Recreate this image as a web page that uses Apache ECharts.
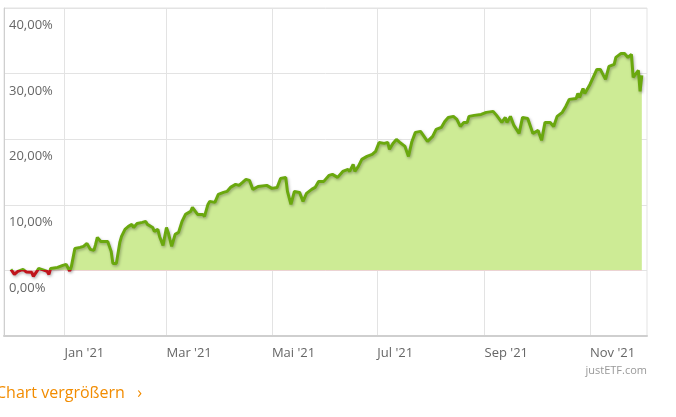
<!DOCTYPE html>
<html>
<head>
<meta charset="utf-8">
<script src="https://cdn.jsdelivr.net/npm/echarts@6/dist/echarts.min.js"></script>
<style>
  html, body { margin: 0; padding: 0; background: #fff; }
  #chart { width: 676px; height: 417px; }
</style>
</head>
<body>
<div id="chart"></div>
<script>
// Wertentwicklung in %
var dates = [
  "2020-12-01", "2020-12-03", "2020-12-05", "2020-12-08", "2020-12-10", "2020-12-13", "2020-12-14",
  "2020-12-16", "2020-12-17", "2020-12-20", "2020-12-22", "2020-12-23", "2020-12-24", "2020-12-28",
  "2020-12-31", "2021-01-02", "2021-01-03", "2021-01-04", "2021-01-05", "2021-01-07", "2021-01-10",
  "2021-01-12", "2021-01-14", "2021-01-16", "2021-01-18", "2021-01-19", "2021-01-20", "2021-01-22",
  "2021-01-23", "2021-01-26", "2021-01-28", "2021-01-29", "2021-01-31", "2021-02-02", "2021-02-03",
  "2021-02-05", "2021-02-07", "2021-02-09", "2021-02-10", "2021-02-12", "2021-02-15", "2021-02-17",
  "2021-02-18", "2021-02-21", "2021-02-22", "2021-02-24", "2021-02-25", "2021-02-27", "2021-02-28",
  "2021-03-01", "2021-03-02", "2021-03-04", "2021-03-06", "2021-03-08", "2021-03-10", "2021-03-12",
  "2021-03-15", "2021-03-16", "2021-03-19", "2021-03-22", "2021-03-23", "2021-03-25", "2021-03-26",
  "2021-03-29", "2021-03-31", "2021-04-01", "2021-04-03", "2021-04-05", "2021-04-07", "2021-04-10",
  "2021-04-12", "2021-04-14", "2021-04-16", "2021-04-18", "2021-04-20", "2021-04-23", "2021-04-24",
  "2021-04-28", "2021-05-01", "2021-05-04", "2021-05-06", "2021-05-09", "2021-05-10", "2021-05-12",
  "2021-05-14", "2021-05-17", "2021-05-19", "2021-05-21", "2021-05-24", "2021-05-26", "2021-05-28",
  "2021-05-31", "2021-06-03", "2021-06-05", "2021-06-08", "2021-06-11", "2021-06-14", "2021-06-15",
  "2021-06-17", "2021-06-18", "2021-06-20", "2021-06-22", "2021-06-25", "2021-06-28", "2021-06-30",
  "2021-07-02", "2021-07-05", "2021-07-07", "2021-07-08", "2021-07-10", "2021-07-12", "2021-07-14",
  "2021-07-17", "2021-07-19", "2021-07-21", "2021-07-23", "2021-07-26", "2021-07-28", "2021-07-30",
  "2021-08-02", "2021-08-04", "2021-08-07", "2021-08-09", "2021-08-11", "2021-08-14", "2021-08-16",
  "2021-08-18", "2021-08-20", "2021-08-22", "2021-08-23", "2021-08-26", "2021-08-27", "2021-08-30",
  "2021-09-02", "2021-09-03", "2021-09-06", "2021-09-08", "2021-09-11", "2021-09-12", "2021-09-13",
  "2021-09-14", "2021-09-16", "2021-09-18", "2021-09-19", "2021-09-21", "2021-09-23", "2021-09-26",
  "2021-09-27", "2021-09-29", "2021-09-30", "2021-10-02", "2021-10-04", "2021-10-06", "2021-10-09",
  "2021-10-11", "2021-10-13", "2021-10-16", "2021-10-18", "2021-10-20", "2021-10-24", "2021-10-25",
  "2021-10-26", "2021-10-28", "2021-10-29", "2021-11-01", "2021-11-05", "2021-11-07", "2021-11-10",
  "2021-11-12", "2021-11-15", "2021-11-16", "2021-11-19", "2021-11-21", "2021-11-23", "2021-11-25",
  "2021-11-26", "2021-11-27", "2021-11-29", "2021-11-30", "2021-12-01"
];
var returns = [
  0.15, -0.61, -0.15, 0.15, -0.26, -0.30, -0.91,
  -0.15, 0.30, 0.05, -0.15, -0.61, 0.30, 0.46,
  0.76, 0.91, 0.76, -0.08, 0.61, 3.35, 3.51,
  3.66, 4.12, 3.20, 3.05, 3.96, 5.03, 4.42,
  4.57, 4.42, 2.90, 1.07, 1.07, 4.27, 5.18,
  6.25, 6.71, 7.01, 6.55, 7.16, 7.32, 7.47,
  7.01, 6.55, 5.95, 6.25, 5.18, 3.81, 3.81,
  6.55, 5.79, 3.66, 5.49, 5.79, 7.47, 8.54,
  9.00, 9.60, 8.54, 8.54, 8.23, 10.06, 10.52,
  10.37, 11.59, 11.89, 11.89, 12.04, 12.65, 13.11,
  12.96, 13.41, 13.87, 13.72, 12.35, 12.80, 12.96,
  12.96, 12.50, 12.65, 14.02, 14.18, 12.04, 10.06,
  12.04, 11.89, 10.52, 11.74, 12.35, 12.65, 13.57,
  13.57, 14.48, 14.63, 14.18, 15.09, 15.40, 15.09,
  16.16, 15.09, 15.85, 16.92, 17.38, 17.68, 18.14,
  19.51, 19.36, 19.51, 18.45, 19.36, 19.97, 19.51,
  18.90, 17.38, 19.66, 21.04, 21.19, 20.43, 19.66,
  20.43, 21.49, 21.80, 22.71, 23.32, 23.48, 23.02,
  21.95, 22.56, 22.56, 23.48, 23.63, 23.63, 23.78,
  24.09, 23.93, 24.24, 23.63, 22.56, 22.56, 23.32,
  22.56, 23.48, 22.10, 21.95, 20.88, 23.32, 23.17,
  23.02, 20.88, 21.04, 21.34, 19.82, 22.56, 22.56,
  21.95, 23.48, 24.09, 25.00, 26.07, 26.22, 26.98,
  26.37, 27.74, 26.98, 28.35, 30.64, 30.64, 29.12,
  31.10, 31.40, 32.47, 33.08, 33.08, 32.47, 32.93,
  29.42, 29.27, 30.49, 27.29, 29.73
];
var monthTicks = ["2021-01-01", "2021-03-01", "2021-05-01", "2021-07-01", "2021-09-01", "2021-11-01"];
var monthNames = ["Jan", "Feb", "Mar", "Apr", "Mai", "Jun", "Jul", "Aug", "Sep", "Okt", "Nov", "Dez"];
var xRange = ["2020-11-27", "2021-12-04"];
var yTicks = [-10, 0, 10, 20, 30, 40];

function toTime(s) {
  var p = s.split("-");
  return +new Date(+p[0], +p[1] - 1, +p[2]);
}

var seriesData = dates.map(function (d, i) { return [toTime(d), returns[i]]; });
var tickTimes = monthTicks.map(toTime);

var chart = echarts.init(document.getElementById("chart"));
chart.setOption({
  animation: false,
  textStyle: { fontFamily: "Open Sans" },
  grid: {
    left: 4,
    right: 29,
    top: 8,
    bottom: 81,
    show: true,
    borderColor: "#e3e3e3",
    borderWidth: 1
  },
  xAxis: {
    type: "value",
    min: toTime(xRange[0]),
    max: toTime(xRange[1]),
    axisLine: { show: true, onZero: false, lineStyle: { color: "#cfcfcf", width: 2 } },
    axisTick: { show: false, customValues: tickTimes },
    axisLabel: {
      customValues: tickTimes,
      align: "left",
      margin: 11,
      color: "#666",
      fontSize: 13,
      formatter: function (v) {
        var d = new Date(v);
        return monthNames[d.getMonth()] + " '" + String(d.getFullYear()).slice(2);
      }
    },
    splitLine: { show: true, lineStyle: { color: "#e3e3e3", width: 1 } }
  },
  yAxis: {
    type: "value",
    min: yTicks[0],
    max: yTicks[yTicks.length - 1],
    interval: 10,
    axisLine: { show: true, onZero: false, lineStyle: { color: "#cfcfcf", width: 1 } },
    axisTick: { show: false },
    axisLabel: {
      inside: true,
      margin: 5,
      verticalAlign: "top",
      padding: [11, 0, 0, 0],
      color: "#666",
      fontSize: 13,
      formatter: function (v) {
        if (v < 0) return "";
        return v.toFixed(2).replace(".", ",") + "%";
      }
    },
    splitLine: { show: true, lineStyle: { color: "#e3e3e3", width: 1 } }
  },
  visualMap: [
    {
      show: false,
      seriesIndex: 0,
      dimension: 1,
      pieces: [
        { gt: 0, lte: 100, color: "#cdeb95" },
        { gt: -100, lte: 0, color: "#f4c3c3" }
      ]
    },
    {
      show: false,
      seriesIndex: 1,
      dimension: 1,
      pieces: [
        { gt: 0, lte: 100, color: "#6aa80e" },
        { gt: -100, lte: 0, color: "#c0141c" }
      ]
    }
  ],
  series: [
    {
      name: "Fläche",
      type: "line",
      data: seriesData,
      showSymbol: false,
      lineStyle: { width: 0 },
      areaStyle: { opacity: 1 },
      z: 1
    },
    {
      name: "Wertentwicklung",
      type: "line",
      data: seriesData,
      showSymbol: false,
      lineStyle: {
        width: 3,
        shadowColor: "rgba(0,0,0,0.3)",
        shadowBlur: 3,
        shadowOffsetX: 1,
        shadowOffsetY: 1.5
      },
      z: 3
    }
  ],
  graphic: [
    {
      type: "text",
      left: -4,
      top: 385,
      style: { text: "Chart vergrößern   ›", fill: "#f28c00", fontSize: 16, fontFamily: "Open Sans" }
    },
    {
      type: "text",
      right: 29,
      top: 365,
      style: { text: "justETF.com", fill: "#999", fontSize: 11, fontFamily: "Open Sans" }
    }
  ]
});
</script>
</body>
</html>
